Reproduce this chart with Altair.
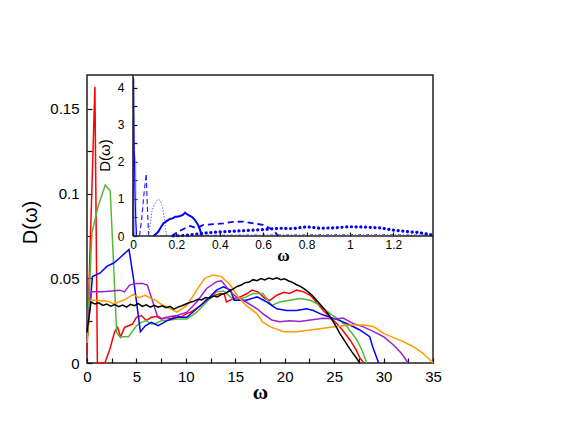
import altair as alt
import pandas as pd

# ---------------- main panel data ----------------
SERIES = ["red", "green", "blue", "purple", "orange", "black"]
COLORS = ["#ff0000", "#55b83a", "#0000ff", "#9a22d0", "#ff9a00", "#000000"]

red_x = [0, 0.8, 1.05, 1.8, 2.3, 2.8, 3.1, 3.4, 3.8, 4.2, 4.6, 5.0, 5.5, 6.0, 6.5, 7.0, 7.5, 8.0, 8.5, 9.0,
         9.5, 10.0, 10.5, 11.0, 11.5, 12.0, 12.5, 13.0, 13.5, 13.9, 14.1, 14.8, 15.5, 16.2, 16.7, 17.3, 18.0,
         18.5, 19.2, 19.9, 20.5, 21.2, 21.9, 22.6, 23.2, 23.9, 24.6, 25.3, 25.9, 26.6, 27.2, 27.6, 28.0]
red_y = [0.005, 0.163, 0.0, 0.0, 0.008, 0.0185, 0.021, 0.0155, 0.021, 0.022, 0.023, 0.027, 0.028, 0.025, 0.027,
         0.0275, 0.026, 0.027, 0.026, 0.028, 0.027, 0.029, 0.030, 0.032, 0.034, 0.037, 0.039, 0.040, 0.041, 0.0405,
         0.036, 0.038, 0.039, 0.041, 0.043, 0.042, 0.038, 0.037, 0.040, 0.0417, 0.041, 0.043, 0.042, 0.040, 0.036,
         0.031, 0.027, 0.023, 0.019, 0.0136, 0.008, 0.003, 0.0]

green_x = [0, 0.5, 1.15, 1.85, 2.35, 3.0, 3.3, 4.2, 5.0, 5.5, 6.0, 6.5, 7.0, 7.5, 8.4, 9.2, 10.1, 11.1, 12.1, 13.1,
           13.8, 14.5, 15.1, 16.1, 16.8, 17.8, 18.7, 19.5, 20.5, 21.5, 22.6, 23.6, 24.6, 25.4, 26.3, 27.3, 27.8, 28.3]
green_y = [0.012, 0.077, 0.093, 0.105, 0.1015, 0.018, 0.0155, 0.0155, 0.022, 0.024, 0.025, 0.023, 0.0235, 0.025,
           0.0254, 0.026, 0.026, 0.030, 0.036, 0.042, 0.0425, 0.039, 0.037, 0.039, 0.041, 0.041, 0.034, 0.036, 0.037,
           0.038, 0.037, 0.034, 0.029, 0.026, 0.0215, 0.0136, 0.0077, 0.0]

blue_x = [0, 0.55, 1.3, 2.0, 2.7, 3.3, 4.25, 4.7, 5.4, 5.9, 6.5, 7.2, 8.1, 9.1, 10.1, 11.1, 12.1, 13.1, 13.8, 14.5,
          14.9, 16.1, 17.2, 18.2, 19.2, 20.2, 21.2, 22.2, 22.9, 23.6, 24.6, 25.6, 26.6, 27.6, 28.6, 28.9, 29.5]
blue_y = [0.013, 0.051, 0.053, 0.057, 0.059, 0.062, 0.067, 0.050, 0.0185, 0.022, 0.024, 0.022, 0.025, 0.027, 0.027,
          0.032, 0.037, 0.043, 0.045, 0.043, 0.037, 0.037, 0.039, 0.036, 0.032, 0.031, 0.031, 0.032, 0.031, 0.029,
          0.027, 0.025, 0.0224, 0.0195, 0.0155, 0.0096, 0.0]

purple_x = [0, 0.45, 1.5, 2.5, 3.3, 3.8, 4.3, 5.0, 5.6, 6.1, 6.6, 7.1, 7.6, 8.4, 9.1, 10.1, 11.1, 12.1, 13.1, 13.6,
            14.5, 15.1, 16.1, 17.2, 17.8, 18.7, 19.5, 20.5, 21.5, 22.6, 23.9, 25.2, 25.9, 26.9, 27.9, 29.0, 30.0,
            31.0, 31.8, 32.5]
purple_y = [0.02, 0.042, 0.042, 0.0425, 0.043, 0.042, 0.046, 0.047, 0.047, 0.046, 0.037, 0.028, 0.026, 0.0275,
            0.028, 0.030, 0.036, 0.044, 0.048, 0.0485, 0.042, 0.039, 0.036, 0.032, 0.029, 0.0254, 0.0244, 0.025,
            0.0245, 0.0254, 0.0264, 0.026, 0.0265, 0.0234, 0.0215, 0.0185, 0.0155, 0.0106, 0.0057, 0.0]

orange_x = [0, 0.35, 1.0, 2.0, 2.7, 3.7, 4.7, 5.2, 5.9, 6.5, 7.0, 7.4, 8.1, 9.1, 10.1, 11.1, 11.9, 12.8, 13.6, 14.5,
            15.3, 16.1, 17.2, 17.8, 18.7, 19.9, 21.2, 22.6, 23.9, 25.2, 26.6, 27.9, 29.0, 30.0, 31.0, 32.0, 33.0,
            34.0, 34.7, 35.0]
orange_y = [0.012, 0.037, 0.037, 0.0365, 0.035, 0.037, 0.0405, 0.0386, 0.040, 0.038, 0.037, 0.035, 0.033, 0.030,
            0.034, 0.043, 0.050, 0.052, 0.051, 0.046, 0.039, 0.034, 0.029, 0.024, 0.021, 0.0185, 0.0185, 0.0195,
            0.0205, 0.0215, 0.0224, 0.0224, 0.0215, 0.0175, 0.015, 0.0126, 0.0096, 0.0057, 0.0018, 0.0]

black_x = [0, 0.4, 0.8, 1.2, 1.6, 2.0, 2.4, 2.8, 3.2, 3.6, 4.0, 4.4, 4.8, 5.2, 5.6, 6.0, 6.4, 6.8, 7.2, 7.6,
           8.0, 8.4, 8.8, 9.2, 9.6, 10.0, 10.4, 10.8, 11.2, 11.6, 12.0, 12.4, 12.8, 13.2, 13.6, 14.0, 14.4, 14.8,
           15.2, 15.6, 16.0, 16.4, 16.8, 17.2, 17.6, 18.0, 18.4, 18.8, 19.2, 19.6, 20.0, 20.4, 20.8, 21.2, 21.6,
           22.0, 22.4, 22.8, 23.2, 23.6, 24.0, 24.4, 24.8, 25.2, 25.6, 26.0, 26.4, 26.8, 27.2, 27.6]
black_y = [0.018, 0.0360, 0.0348, 0.0355, 0.0340, 0.0348, 0.0336, 0.0345, 0.0332, 0.0342, 0.0330, 0.0346, 0.0338,
           0.0350, 0.0334, 0.0343, 0.0330, 0.0340, 0.0329, 0.0338, 0.0326, 0.0334, 0.0318, 0.0330, 0.0338, 0.0348,
           0.0357, 0.0364, 0.0376, 0.0372, 0.0386, 0.0382, 0.0395, 0.0390, 0.0405, 0.0412, 0.0425, 0.0438, 0.0452,
           0.0460, 0.0474, 0.0478, 0.0492, 0.0486, 0.0498, 0.0490, 0.0502, 0.0494, 0.0503, 0.0492, 0.0497, 0.0484,
           0.0476, 0.0462, 0.0452, 0.0436, 0.0418, 0.0398, 0.0372, 0.0345, 0.0318, 0.0290, 0.0254, 0.0214, 0.0172,
           0.0136, 0.0100, 0.0066, 0.0034, 0.0]

MAIN_X_TICKS = [0, 2.5, 5, 7.5, 10, 12.5, 15, 17.5, 20, 22.5, 25, 27.5, 30, 32.5, 35]
MAIN_Y_TICKS = [0, 0.025, 0.05, 0.075, 0.1, 0.125, 0.15]

# ---------------- inset data ----------------
spike_x = [0.0, 0.003, 0.006, 0.009, 0.013, 0.017]
spike_y = [0.0, 4.25, 2.3, 1.2, 0.4, 0.0]
fill_x = [0.004, 0.005, 0.015, 0.017]
fill_y = [0.0, 2.4, 2.0, 0.0]
dash1_x = [0.030, 0.040, 0.050, 0.061, 0.066, 0.072]
dash1_y = [0.0, 0.45, 1.1, 1.68, 0.8, 0.0]
dot1_x = [0.072, 0.080, 0.088, 0.099, 0.110, 0.118, 0.126, 0.135, 0.143, 0.150, 0.155]
dot1_y = [0.0, 0.35, 0.70, 0.85, 0.95, 0.99, 0.95, 0.80, 0.52, 0.2, 0.0]
solid2_x = [0.094, 0.105, 0.117, 0.13, 0.14, 0.155, 0.17, 0.185, 0.194, 0.205, 0.217, 0.23, 0.24, 0.25, 0.263,
            0.275, 0.286, 0.30, 0.31, 0.317]
solid2_y = [0.0, 0.05, 0.12, 0.25, 0.34, 0.40, 0.46, 0.48, 0.52, 0.52, 0.54, 0.57, 0.63, 0.58, 0.54, 0.50, 0.43,
            0.30, 0.15, 0.0]
dash2_x = [0.178, 0.209, 0.24, 0.263, 0.294, 0.324, 0.37, 0.416, 0.463, 0.509, 0.555, 0.60, 0.647, 0.67]
dash2_y = [0.0, 0.12, 0.21, 0.27, 0.21, 0.30, 0.32, 0.34, 0.38, 0.39, 0.34, 0.30, 0.16, 0.0]
dot2_x = [0.186, 0.247, 0.317, 0.37, 0.43, 0.49, 0.555, 0.616, 0.678, 0.74, 0.80, 0.862, 0.92, 1.0, 1.077, 1.14,
          1.2, 1.26, 1.32, 1.377]
dot2_y = [0.0, 0.02, 0.07, 0.10, 0.12, 0.14, 0.16, 0.18, 0.21, 0.20, 0.25, 0.21, 0.22, 0.25, 0.24, 0.22, 0.16,
          0.12, 0.09, 0.03]
low_x = [0.3, 0.6, 0.9, 1.2, 1.38]
low_y = [0.02, 0.03, 0.04, 0.04, 0.02]

INSET_X_TICKS = [0, 0.2, 0.4, 0.6, 0.8, 1, 1.2]
INSET_Y_TICKS = [0, 0.5, 1, 1.5, 2, 2.5, 3, 3.5, 4]
INSET_X_MAX = 1.383
INSET_Y_MAX = 4.34

# ---------------- layout constants ----------------
W, H = 346, 288
IN_LEFT, IN_BOTTOM = 46, 161
FONT = "Liberation Sans"


def frame(xs, ys, name=""):
    assert len(xs) == len(ys), name
    return pd.DataFrame({"s": name, "i": list(range(len(xs))), "x": xs, "y": ys})


main_df = pd.concat([
    frame(red_x, red_y, "red"),
    frame(green_x, green_y, "green"),
    frame(blue_x, blue_y, "blue"),
    frame(purple_x, purple_y, "purple"),
    frame(orange_x, orange_y, "orange"),
    frame(black_x, black_y, "black"),
])

MX = alt.X("x:Q",
           scale=alt.Scale(domain=[0, 35], nice=False, zero=False),
           axis=alt.Axis(values=MAIN_X_TICKS,
                         labelExpr="datum.value % 5 == 0 ? format(datum.value, '~g') : ''",
                         offset=-5, ticks=True, tickSize=5, tickWidth=1.2,
                         domain=False, grid=False, tickColor="#111",
                         labelPadding=6, labelFlush=False, labelOverlap=False,
                         labelFont=FONT, labelFontSize=15, labelColor="#000",
                         title="ω", titleFont="Liberation Serif", titleFontSize=21,
                         titleFontWeight="bold", titleColor="#000",
                         titleY=40, titleBaseline="alphabetic"))
MY = alt.Y("y:Q",
           scale=alt.Scale(domain=[0, 0.17], nice=False, zero=False),
           axis=alt.Axis(values=MAIN_Y_TICKS,
                         labelExpr="round(datum.value * 1000) % 50 == 0 ? format(datum.value, '~g') : ''",
                         offset=-5, ticks=True, tickSize=5, tickWidth=1.2,
                         domain=False, grid=False, tickColor="#111",
                         labelPadding=8, labelFlush=False, labelOverlap=False,
                         labelFont=FONT, labelFontSize=15, labelColor="#000",
                         title="D(ω)", titleFont=FONT, titleFontSize=20, titleFontWeight="normal",
                         titleColor="#000", titleX=-62, titleY=147, titleAngle=270,
                         titleBaseline="middle", titleAlign="center"))

main = alt.Chart(main_df).mark_line(strokeWidth=1.5).encode(
    x=MX, y=MY,
    color=alt.Color("s:N", scale=alt.Scale(domain=SERIES, range=COLORS), legend=None),
    order="i:Q",
)

IX = alt.X("x:Q",
           scale=alt.Scale(domain=[0, INSET_X_MAX], range=[IN_LEFT, W], nice=False, zero=False),
           axis=alt.Axis(orient="bottom", values=INSET_X_TICKS, format="~g",
                         offset=-(H - IN_BOTTOM + 4), ticks=True, tickSize=4, tickWidth=1.2,
                         domain=False, grid=False,
                         tickColor="#111", labelPadding=3, labelFlush=False, labelOverlap=False,
                         labelFont=FONT, labelFontSize=12, labelColor="#000",
                         title="ω", titleFont="Liberation Serif", titleFontSize=17,
                         titleFontWeight="bold", titleColor="#000",
                         titleX=(IN_LEFT + W) / 2, titleY=28, titleBaseline="alphabetic"))
IY = alt.Y("y:Q",
           scale=alt.Scale(domain=[0, INSET_Y_MAX], range=[IN_BOTTOM, 0], nice=False, zero=False),
           axis=alt.Axis(orient="left", values=INSET_Y_TICKS,
                         labelExpr="datum.value % 1 == 0 ? format(datum.value, '~g') : ''",
                         offset=-(IN_LEFT + 4), ticks=True, tickSize=4, tickWidth=1.2,
                         domain=False, grid=False,
                         tickColor="#111", labelPadding=9, labelFlush=False, labelOverlap=False,
                         labelFont=FONT, labelFontSize=12, labelColor="#000",
                         title="D(ω)", titleFont=FONT, titleFontSize=15, titleFontWeight="normal",
                         titleColor="#000", titleX=-33, titleY=80, titleAngle=270,
                         titleBaseline="middle", titleAlign="center"))

inset_layers = [
    alt.Chart(frame(fill_x, fill_y, "fill")).mark_area(color="#8c8cff", opacity=0.75).encode(
        x=IX, y=IY, order="i:Q"),
    alt.Chart(frame(spike_x, spike_y, "spike")).mark_line(color="#0000ff", strokeWidth=1).encode(
        x=IX, y=IY, order="i:Q"),
    alt.Chart(frame(dash1_x, dash1_y, "dash1")).mark_line(color="#2a2aff", strokeWidth=1.2,
                                                         strokeDash=[5, 3]).encode(x=IX, y=IY, order="i:Q"),
    alt.Chart(frame(dot1_x, dot1_y, "dot1")).mark_line(color="#6a6aff", strokeWidth=1,
                                                       strokeDash=[1.5, 1.5]).encode(x=IX, y=IY, order="i:Q"),
    alt.Chart(frame(low_x, low_y, "low")).mark_line(color="#3030ff", strokeWidth=0.8,
                                                    strokeDash=[3, 2, 1, 2]).encode(x=IX, y=IY, order="i:Q"),
    alt.Chart(frame(solid2_x, solid2_y, "solid2")).mark_line(color="#0000ff", strokeWidth=2).encode(
        x=IX, y=IY, order="i:Q"),
    alt.Chart(frame(dash2_x, dash2_y, "dash2")).mark_line(color="#0000ff", strokeWidth=1.8,
                                                         strokeDash=[6, 4]).encode(x=IX, y=IY, order="i:Q"),
    alt.Chart(frame(dot2_x, dot2_y, "dot2")).mark_line(color="#0000ff", strokeWidth=3.2, strokeCap="round",
                                                       strokeDash=[0.1, 4.6]).encode(x=IX, y=IY, order="i:Q"),
    alt.Chart(pd.DataFrame({"x": [0.0], "y": [0.0], "y2": [INSET_Y_MAX]})).mark_rule(
        color="#222", strokeWidth=1.5).encode(x=IX, y=IY, y2="y2:Q"),
    alt.Chart(pd.DataFrame({"x": [0.0], "x2": [INSET_X_MAX], "y": [0.0]})).mark_rule(
        color="#222", strokeWidth=1.5).encode(x=IX, x2="x2:Q", y=IY),
]
inset = alt.layer(*inset_layers)

chart = alt.layer(main, inset).resolve_scale(x="independent", y="independent").properties(
    width=W, height=H,
    autosize=alt.AutoSizeParams(type="none"),
    padding={"left": 79, "top": 67, "right": 120, "bottom": 60},
).configure(
    font=FONT,
    view=alt.ViewConfig(stroke="#222", strokeWidth=1.5),
)

chart.save("out.html", embed_options={"renderer": "svg", "actions": False})
